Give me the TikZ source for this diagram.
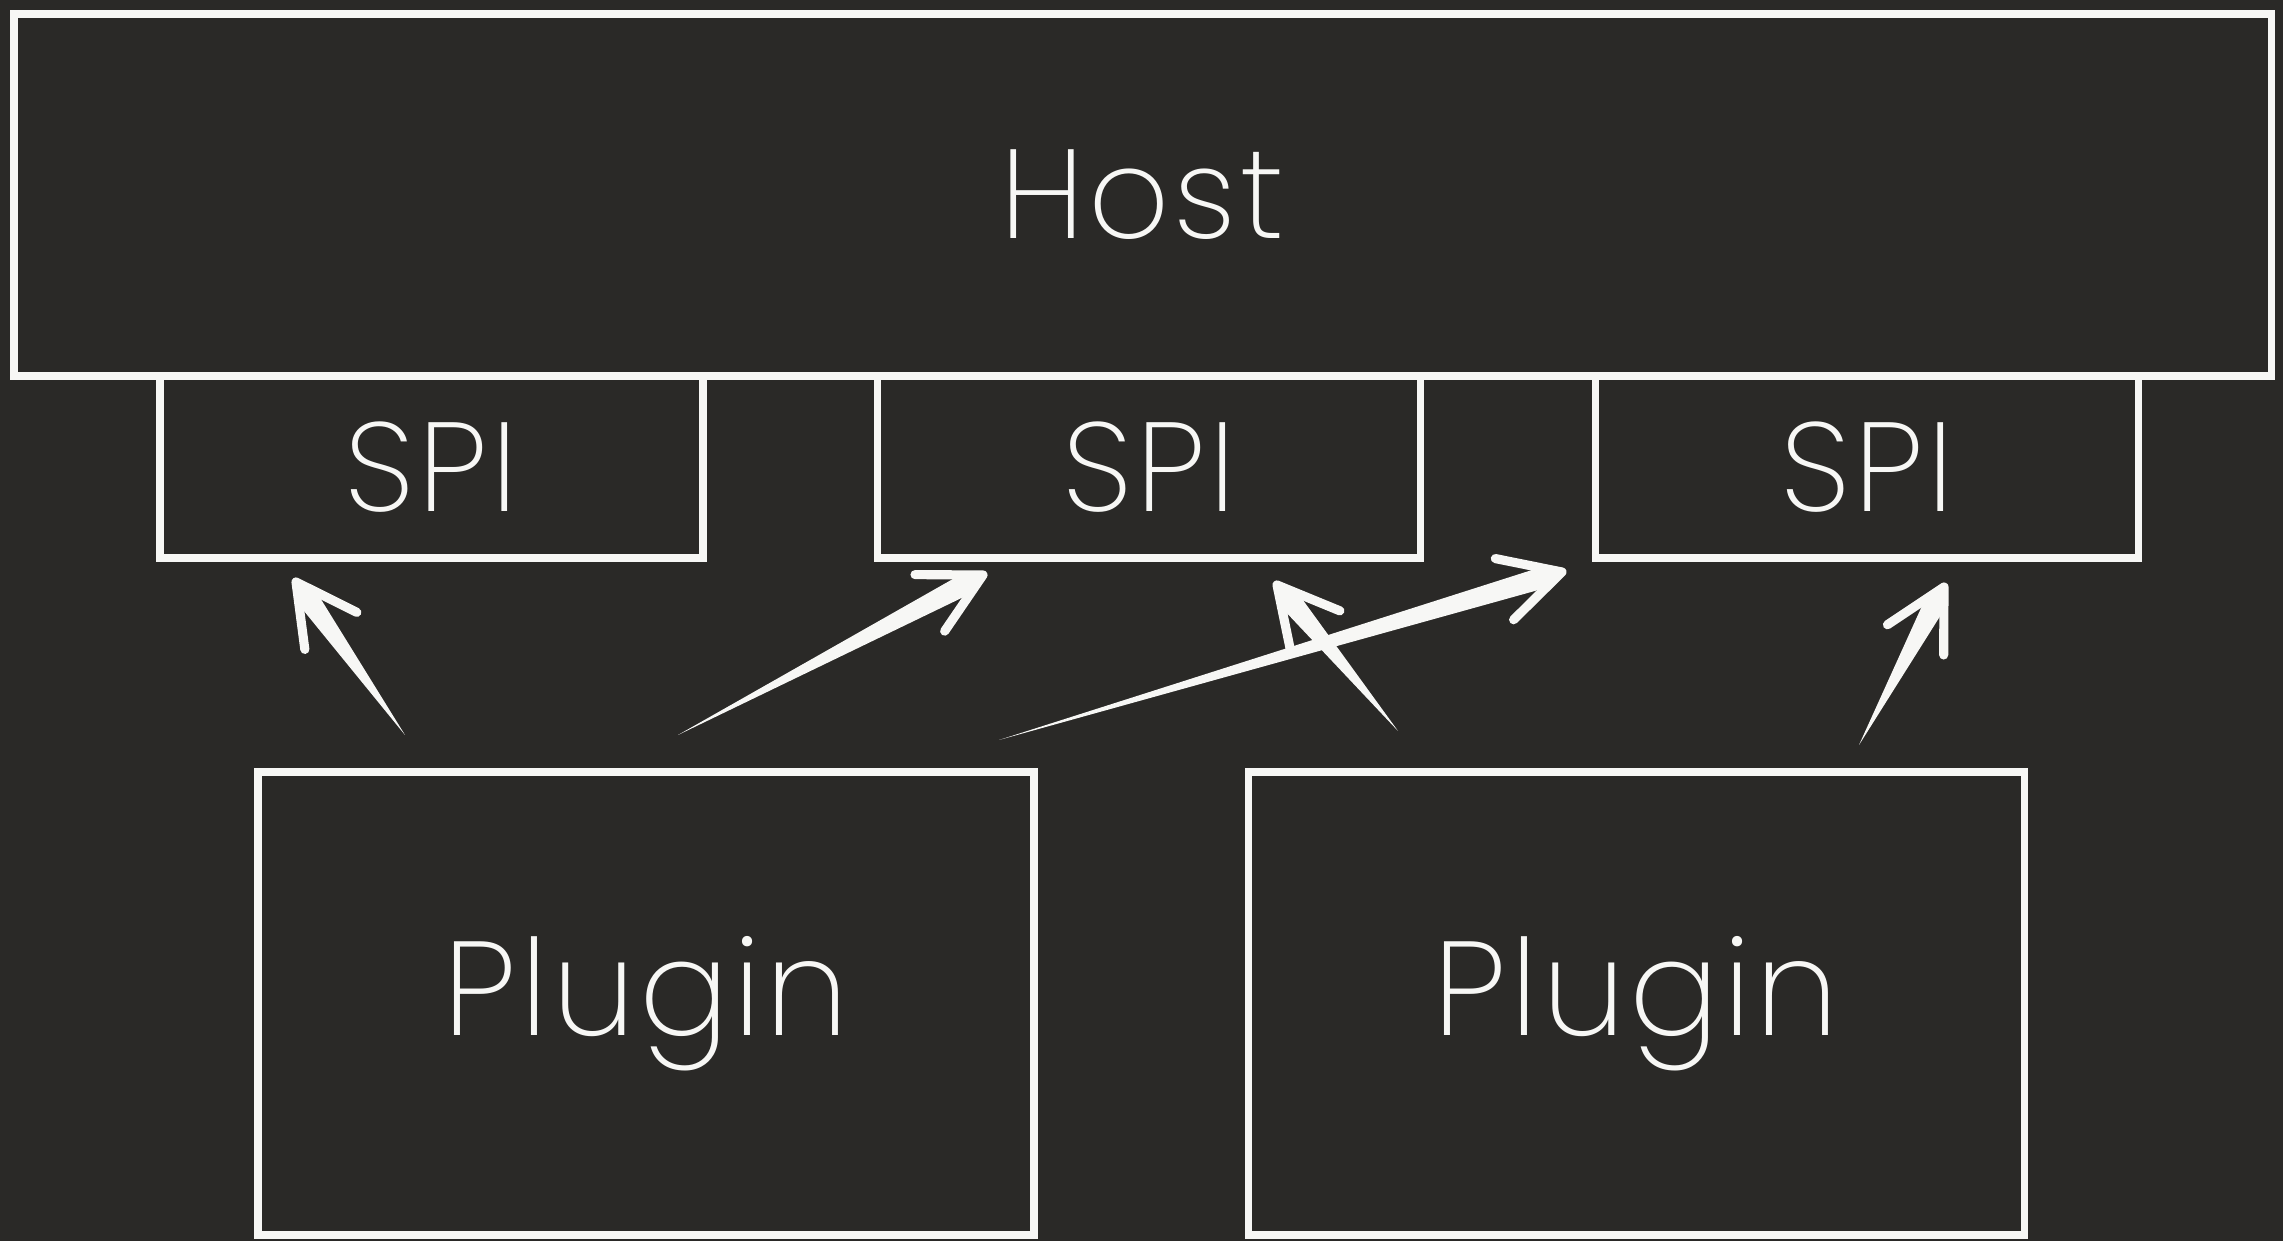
\documentclass[tikz,border=0pt]{standalone}
\usepackage{fontspec}
\newfontfamily\chalkfont{Poppins ExtraLight}[LetterSpace=3]
\usetikzlibrary{arrows.meta,calc}

\definecolor{board}{HTML}{2A2927}
\definecolor{chalk}{HTML}{F7F7F5}

% tapered chalk stroke with an open head
\newcommand{\chalkarrow}[2]{%
	\coordinate (neck) at ($(#2)!0.25cm!(#1)$);
	\fill[chalk] (#1) -- ($(neck)!3pt!90:(#1)$) -- ($(#2)!1pt!90:(#1)$)
		-- ($(#2)!1pt!-90:(#1)$) -- ($(neck)!3pt!-90:(#1)$) -- cycle;
	\draw[chalk, line width=2.6pt, line cap=round, line join=round]
		($(#2)!0.68cm!28:(#1)$) -- (#2) -- ($(#2)!0.68cm!-28:(#1)$);
}

\tikzset{
	chalkbox/.style = {draw=chalk, line width=2pt, inner sep=0pt, anchor=center,
		text=chalk, font=\chalkfont\fontsize{36}{40}\selectfont},
	hostbox/.style = {chalkbox, minimum width=22.57cm, minimum height=3.62cm},
	spibox/.style = {chalkbox, minimum width=5.43cm, minimum height=1.82cm},
	plugbox/.style = {chalkbox, minimum width=7.76cm, minimum height=4.63cm,
		font=\chalkfont\fontsize{38}{44}\selectfont}
}

\begin{document}
\begin{tikzpicture}
	\fill[board] (0,0) rectangle (22.83,12.41);
	\useasboundingbox (0,0) rectangle (22.83,12.41);

	% host and the three service interfaces hanging under it
	\node[hostbox] (host) at (11.425,10.46) {Host};
	\node[spibox] (spiA) at (4.315,7.74) {SPI};
	\node[spibox] (spiB) at (11.49,7.74) {SPI};
	\node[spibox] (spiC) at (18.67,7.74) {SPI};

	% plugins
	\node[plugbox] (plugA) at (6.46,2.375) {Plugin};
	\node[plugbox] (plugB) at (16.36,2.375) {Plugin};

	% arrow ends
	\coordinate (aA) at (4.05,5.06);   \coordinate (tA) at (2.96,6.59);
	\coordinate (aB) at (6.78,5.06);   \coordinate (tB) at (9.83,6.66);
	\coordinate (aC) at (9.99,5.01);   \coordinate (tC) at (15.62,6.69);
	\coordinate (aD) at (13.98,5.10);  \coordinate (tD) at (12.77,6.56);
	\coordinate (aE) at (18.59,4.96);  \coordinate (tE) at (19.44,6.54);

	\chalkarrow{aA}{tA}
	\chalkarrow{aB}{tB}
	\chalkarrow{aC}{tC}
	\chalkarrow{aD}{tD}
	\chalkarrow{aE}{tE}
\end{tikzpicture}
\end{document}
